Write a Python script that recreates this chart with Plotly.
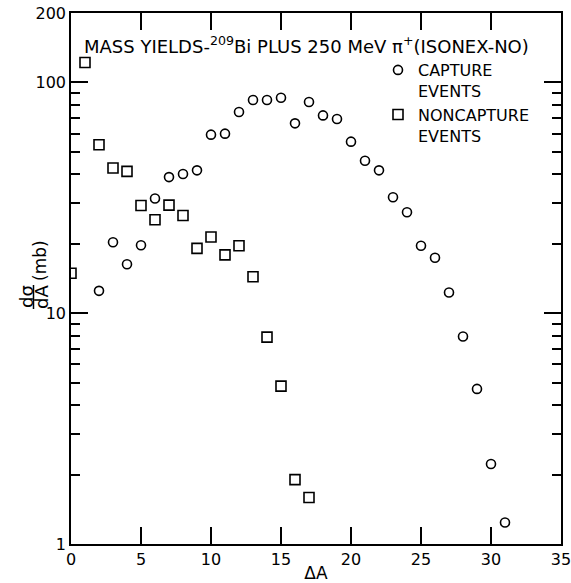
import plotly.graph_objects as go

# ---- data ----
capture_dA = [2, 3, 4, 5, 6, 7, 8, 9, 10, 11, 12, 13, 14, 15, 16, 17, 18, 19, 20,
              21, 22, 23, 24, 25, 26, 27, 28, 29, 30, 31]
capture_sigma = [12.5, 20.3, 16.3, 19.7, 31.4, 38.9, 40.1, 41.6, 59.4, 60.0, 74.5,
                 84.0, 84.0, 85.9, 66.5, 82.3, 72.0, 69.5, 55.4, 45.8, 41.6, 31.8,
                 27.4, 19.6, 17.4, 12.3, 7.93, 4.70, 2.22, 1.24]

noncapture_dA = [0, 1, 2, 3, 4, 5, 6, 7, 8, 9, 10, 11, 12, 13, 14, 15, 16, 17]
noncapture_sigma = [14.9, 122, 53.7, 42.6, 41.2, 29.3, 25.4, 29.4, 26.5, 19.1, 21.4,
                    17.9, 19.6, 14.4, 7.88, 4.83, 1.90, 1.59]

x_ticks = [0, 5, 10, 15, 20, 25, 30, 35]
y_ticks = [1, 10, 100, 200]
y_ticktext = ["1", "10", "100", "200"]
y_minor = [2, 3, 4, 5, 6, 7, 8, 9, 20, 30, 40, 50, 60, 70, 80, 90]

FONT = "DejaVu Sans"
W, H = 571, 583
L, R, T, B = 71, 10, 13, 39
PW, PH = W - L - R, H - T - B


def px(xpix):
    return (xpix - L) / PW


def py(ypix):
    return (H - B - ypix) / PH


fig = go.Figure()
fig.add_trace(go.Scatter(
    x=capture_dA, y=capture_sigma, mode="markers", name="CAPTURE<br>EVENTS",
    marker=dict(symbol="circle-open", size=9, color="black", line=dict(width=1.6, color="black")),
))
fig.add_trace(go.Scatter(
    x=noncapture_dA, y=noncapture_sigma, mode="markers", name="NONCAPTURE<br>EVENTS",
    marker=dict(symbol="square-open", size=10, color="black", line=dict(width=1.6, color="black")),
))

axis_common = dict(
    showline=True, linecolor="black", linewidth=1.5, mirror="allticks",
    ticks="inside", tickcolor="black", tickwidth=1.5, ticklen=17,
    showgrid=False, zeroline=False, ticklabeloverflow="allow",
    tickfont=dict(family=FONT, size=16, color="black"),
)

fig.update_layout(
    width=W, height=H,
    margin=dict(l=L, r=R, t=T, b=B, autoexpand=False),
    paper_bgcolor="white", plot_bgcolor="white",
    font=dict(family=FONT, color="black"),
    xaxis=dict(range=[0, 35], tickmode="array", tickvals=x_ticks,
               title=dict(text="ΔA", font=dict(family=FONT, size=17), standoff=1),
               **axis_common),
    yaxis=dict(type="log", range=[0, 2.30103], tickmode="array", tickvals=y_ticks,
               ticktext=y_ticktext,
               minor=dict(tickmode="array", tickvals=y_minor, ticks="inside",
                          ticklen=9, tickwidth=1.5, tickcolor="black", showgrid=False),
               **axis_common),
    legend=dict(x=px(378), y=py(53), xanchor="left", yanchor="top",
                font=dict(family=FONT, size=16, color="black"),
                bgcolor="rgba(0,0,0,0)", borderwidth=0, valign="top",
                tracegroupgap=0),
    showlegend=True,
)

annotations = [
    dict(text="MASS YIELDS-<sup>209</sup>Bi PLUS 250 MeV π<sup>+</sup>(ISONEX-NO)",
         x=px(82), y=py(45), xref="paper", yref="paper", xanchor="left", yanchor="middle",
         showarrow=False, font=dict(family=FONT, size=18, color="black")),
    dict(text="dσ", x=px(26), y=py(297), xref="paper", yref="paper", textangle=-90,
         xanchor="center", yanchor="middle", showarrow=False,
         font=dict(family=FONT, size=18, color="black")),
    dict(text="dA", x=px(41), y=py(297), xref="paper", yref="paper", textangle=-90,
         xanchor="center", yanchor="middle", showarrow=False,
         font=dict(family=FONT, size=18, color="black")),
    dict(text="(mb)", x=px(40), y=py(261), xref="paper", yref="paper", textangle=-90,
         xanchor="center", yanchor="middle", showarrow=False,
         font=dict(family=FONT, size=17, color="black")),
]
fig.update_layout(annotations=annotations)

fig.add_shape(type="line", xref="paper", yref="paper",
              x0=px(33.5), x1=px(33.5), y0=py(285), y1=py(309),
              line=dict(color="black", width=1.5))

fig.write_html("out.html")
